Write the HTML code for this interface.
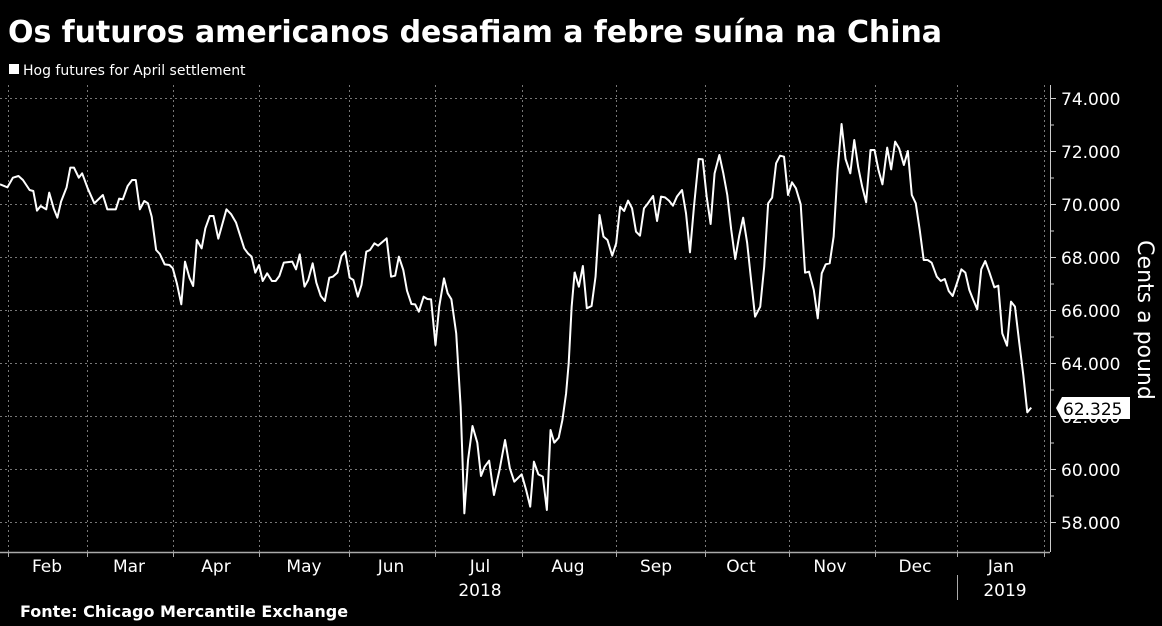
<!DOCTYPE html>
<html><head><meta charset="utf-8"><style>
html,body{margin:0;padding:0;background:#000;}
body{width:1162px;height:626px;overflow:hidden;position:relative;font-family:"Liberation Sans","DejaVu Sans",sans-serif;color:#fff;}
</style></head><body>
<svg width="1162" height="626" xmlns="http://www.w3.org/2000/svg" style="position:absolute;left:0;top:0">
<rect width="1162" height="626" fill="#000"/>
<text x="8" y="42" font-family="DejaVu Sans, Liberation Sans, sans-serif" font-weight="bold" font-size="30" fill="#fff" textLength="934">Os futuros americanos desafiam a febre suína na China</text>
<rect x="9" y="64" width="10" height="10" fill="#fff"/>
<text x="23" y="75" font-family="DejaVu Sans, sans-serif" font-size="14" fill="#fff">Hog futures for April settlement</text>
<g stroke="#777" stroke-width="1" stroke-dasharray="2,3">
<line x1="0" x2="1050" y1="98.5" y2="98.5"/><line x1="0" x2="1050" y1="151.5" y2="151.5"/><line x1="0" x2="1050" y1="204.5" y2="204.5"/><line x1="0" x2="1050" y1="257.5" y2="257.5"/><line x1="0" x2="1050" y1="310.5" y2="310.5"/><line x1="0" x2="1050" y1="363.5" y2="363.5"/><line x1="0" x2="1050" y1="416.5" y2="416.5"/><line x1="0" x2="1050" y1="469.5" y2="469.5"/><line x1="0" x2="1050" y1="522.5" y2="522.5"/>
<line x1="8.5" x2="8.5" y1="85" y2="552"/><line x1="87.5" x2="87.5" y1="85" y2="552"/><line x1="173.5" x2="173.5" y1="85" y2="552"/><line x1="259.5" x2="259.5" y1="85" y2="552"/><line x1="349.5" x2="349.5" y1="85" y2="552"/><line x1="435.5" x2="435.5" y1="85" y2="552"/><line x1="522.5" x2="522.5" y1="85" y2="552"/><line x1="616.5" x2="616.5" y1="85" y2="552"/><line x1="705.5" x2="705.5" y1="85" y2="552"/><line x1="789.5" x2="789.5" y1="85" y2="552"/><line x1="875.5" x2="875.5" y1="85" y2="552"/><line x1="957.5" x2="957.5" y1="85" y2="552"/><line x1="1044.5" x2="1044.5" y1="85" y2="552"/>
</g>
<line x1="0" x2="1050" y1="552.5" y2="552.5" stroke="#aaa" stroke-width="1.5"/>
<g stroke="#aaa" stroke-width="1">
<line x1="8.5" x2="8.5" y1="552" y2="557"/><line x1="87.5" x2="87.5" y1="552" y2="557"/><line x1="173.5" x2="173.5" y1="552" y2="557"/><line x1="259.5" x2="259.5" y1="552" y2="557"/><line x1="349.5" x2="349.5" y1="552" y2="557"/><line x1="435.5" x2="435.5" y1="552" y2="557"/><line x1="522.5" x2="522.5" y1="552" y2="557"/><line x1="616.5" x2="616.5" y1="552" y2="557"/><line x1="705.5" x2="705.5" y1="552" y2="557"/><line x1="789.5" x2="789.5" y1="552" y2="557"/><line x1="875.5" x2="875.5" y1="552" y2="557"/><line x1="957.5" x2="957.5" y1="552" y2="557"/><line x1="1044.5" x2="1044.5" y1="552" y2="557"/>
<line x1="957.5" x2="957.5" y1="575" y2="600"/>
</g>
<line x1="1050.5" x2="1050.5" y1="85" y2="552" stroke="#ccc" stroke-width="1"/>
<g stroke="#ccc" stroke-width="1">
<line x1="1050" x2="1056" y1="98.5" y2="98.5"/><line x1="1050" x2="1056" y1="151.5" y2="151.5"/><line x1="1050" x2="1056" y1="204.5" y2="204.5"/><line x1="1050" x2="1056" y1="257.5" y2="257.5"/><line x1="1050" x2="1056" y1="310.5" y2="310.5"/><line x1="1050" x2="1056" y1="363.5" y2="363.5"/><line x1="1050" x2="1056" y1="416.5" y2="416.5"/><line x1="1050" x2="1056" y1="469.5" y2="469.5"/><line x1="1050" x2="1056" y1="522.5" y2="522.5"/>
<line x1="1050" x2="1054" y1="125" y2="125"/><line x1="1050" x2="1054" y1="178" y2="178"/><line x1="1050" x2="1054" y1="231" y2="231"/><line x1="1050" x2="1054" y1="284" y2="284"/><line x1="1050" x2="1054" y1="337" y2="337"/><line x1="1050" x2="1054" y1="390" y2="390"/><line x1="1050" x2="1054" y1="443" y2="443"/><line x1="1050" x2="1054" y1="496" y2="496"/>
</g>
<g font-family="DejaVu Sans, sans-serif" font-size="17" fill="#fff">
<text x="1061" y="105">74.000</text><text x="1061" y="158">72.000</text><text x="1061" y="211">70.000</text><text x="1061" y="264">68.000</text><text x="1061" y="317">66.000</text><text x="1061" y="370">64.000</text><text x="1061" y="423">62.000</text><text x="1061" y="476">60.000</text><text x="1061" y="529">58.000</text>
</g>
<text transform="translate(1138,320) rotate(90)" text-anchor="middle" font-family="DejaVu Sans, sans-serif" font-size="22" fill="#fff">Cents a pound</text>
<g font-family="DejaVu Sans, sans-serif" font-size="17" fill="#fff" text-anchor="middle">
<text x="47" y="572">Feb</text><text x="129" y="572">Mar</text><text x="216" y="572">Apr</text><text x="304" y="572">May</text><text x="391" y="572">Jun</text><text x="480" y="572">Jul</text><text x="568" y="572">Aug</text><text x="656" y="572">Sep</text><text x="741" y="572">Oct</text><text x="830" y="572">Nov</text><text x="915" y="572">Dec</text><text x="1001" y="572">Jan</text>
<text x="480" y="596">2018</text><text x="1005" y="596">2019</text>
</g>
<text x="20" y="617" font-family="DejaVu Sans, sans-serif" font-weight="bold" font-size="16" fill="#fff">Fonte: Chicago Mercantile Exchange</text>
<g fill="none" stroke="#fff" stroke-width="2" stroke-linejoin="round">
<polyline vector-effect="non-scaling-stroke" transform="translate(0,80) scale(0.37,0.33333)" points="0,313 20,322 35,293 50,288 62,300 80,330 90,333 100,392 110,378 125,388 133,338 145,385 155,413 165,365 180,322 190,263 200,263 213,293 222,280 237,325 255,370 278,345 290,388 313,388 322,356 332,358 345,318 357,300 367,300 378,388 390,363 400,370 410,410 422,510 432,522 445,553 458,555 467,565 478,610 490,673 500,545 512,593 522,618 532,480 545,505 555,445 567,408 577,408 590,476 612,388 625,403 638,428 650,470 660,505 670,520 680,530 690,578 700,555 710,603 722,580 735,603 745,603 755,588 767,548 790,545 800,568 810,523 823,620 833,600 845,550 855,608 867,648 878,663 890,593 900,590 912,578 923,528 933,515 945,593 955,600 967,650 977,615 990,515 1000,510 1012,490 1022,497 1045,475 1057,590 1068,587 1078,530 1090,570 1100,632 1112,672 1122,673 1132,695 1145,650 1155,657 1165,658 1177,795 1187,680 1200,595 1210,640 1220,658 1233,760 1245,980 1255,1300 1265,1140 1277,1038 1290,1088 1300,1188 1310,1160 1322,1142 1335,1245 1350,1170 1365,1080 1378,1165 1390,1205 1410,1183 1422,1230 1433,1280 1443,1145 1455,1183 1467,1190 1478,1290 1488,1050 1498,1088 1510,1073 1520,1020 1530,940 1537,850 1545,680 1553,578"/>
<polyline vector-effect="non-scaling-stroke" transform="translate(540,80) scale(0.3968,0.33333)" points="87,575 98,620 108,558 118,685 130,678 140,590 150,405 160,470 170,480 182,527 192,490 202,380 212,393 222,362 232,385 242,455 252,467 262,385 272,370 285,348 295,423 305,350 315,352 325,362 335,377 345,350 358,330 368,400 378,517 388,380 400,237 410,238 420,350 430,432 440,280 452,225 462,280 472,345 482,450 492,537 502,468 512,413 522,488 532,600 542,710 555,680 565,560 575,370 585,353 595,250 605,227 615,230 625,345 635,307 645,325 657,373 668,578 678,575 690,630 700,715 710,580 720,553 730,550 740,470 750,270 760,132 770,237 782,280 792,180 802,262 812,320 822,367 833,210 843,210 853,270 863,313 875,203 885,268 895,185 905,205 917,255 927,213 937,345 947,370 957,450 967,540 977,540 987,548 1000,590 1010,603 1020,597 1030,633 1040,648 1052,605 1062,568 1072,578 1082,630 1092,660 1102,688 1112,568 1122,543 1132,575 1145,622 1155,617 1165,760 1177,797 1187,665 1197,680 1208,790 1218,885 1228,997 1238,983"/>
</g>
<polygon points="1056,408 1062,397 1130,397 1130,419 1062,419" fill="#fff"/>
<text x="1063" y="415" font-family="DejaVu Sans, sans-serif" font-size="17" fill="#000">62.325</text>
</svg>
</body></html>
